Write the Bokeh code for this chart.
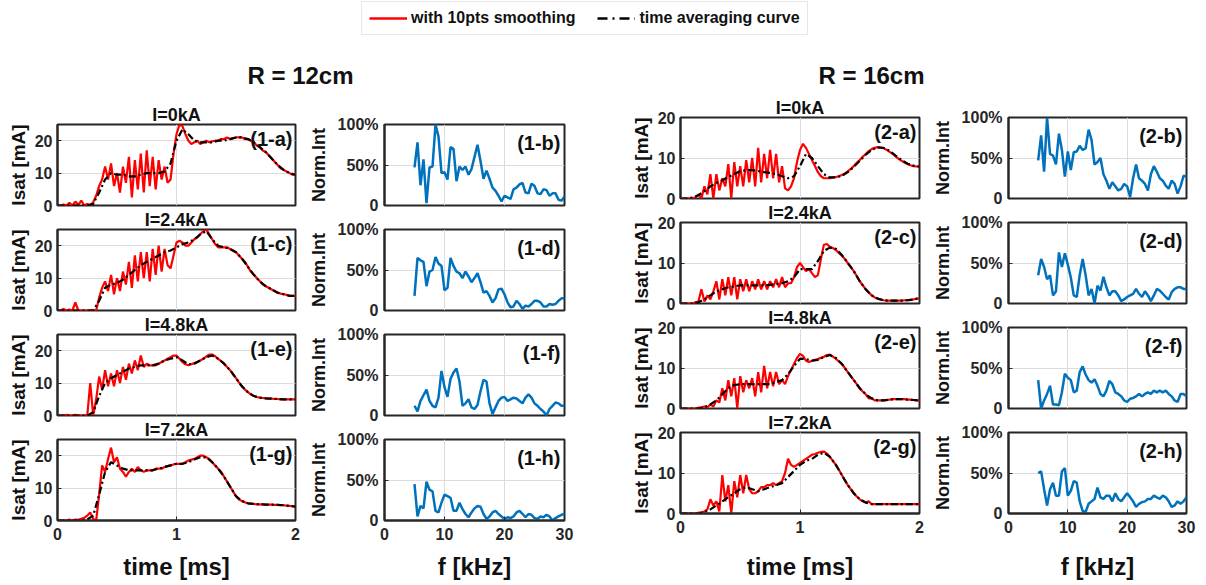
import numpy as np
from bokeh.plotting import figure
from bokeh.layouts import row, column
from bokeh.models import Label, Legend, LegendItem, Range1d, FixedTicker, Spacer
from bokeh.embed import file_html
from bokeh.resources import INLINE

FONT = "Liberation Sans"
DARK = "#262626"
GRIDC = "#dcdcdc"
RED = "#ff0000"
BLUE = "#0072bd"

# sampling grids
time_red = np.round(np.arange(81) * 0.025, 3)   # ms
time_avg = np.round(np.arange(41) * 0.05, 3)    # ms
freq_khz = np.arange(51) * 0.5 + 5.0            # kHz

# ---------------- R = 12 cm : Isat [mA] ----------------
r12_i0_smooth = [0, 0, 0.3, 0, 0.8, 0, 1.2, 0.2, 1.5, 0,
                 0.5, 0, 1, 3, 6, 8, 12, 8, 13, 6,
                 10, 4, 12, 7, 15, 2.5, 14, 5, 16, 4,
                 17, 6, 15, 5, 14, 8, 12, 7, 8, 16,
                 22, 25, 24.5, 22, 20, 19, 19.5, 20, 19, 19.5,
                 20, 19.5, 19.8, 20, 20, 20.5, 20.5, 21, 20.5, 20.8,
                 21, 21, 21, 20.5, 20.5, 20, 19.5, 18.5, 18, 17,
                 16.5, 15.5, 14.5, 13.5, 12.5, 11.5, 11, 10.5, 10, 9.5,
                 9.5]
r12_i0_avg = [0, 0, 0, 0, 0, 0, 0.5, 4, 8, 10,
              9.5, 9.5, 9, 9, 9.5, 10, 10, 10, 10.5, 13,
              20, 23.5, 22, 20, 19.5, 19.5, 19.5, 20, 20, 20.5,
              21, 21, 20.5, 19.5, 18, 16.5, 14.5, 12.5, 11, 10,
              9.5]

r12_i24_smooth = [0, 0, 0.5, 0, 0.3, 0, 2.5, 0, 0, 0,
                  0, 0, 0, 0, 4, 7, 9, 6, 11, 5,
                  10, 6, 12, 8, 15, 7, 17, 9, 18, 10,
                  18, 9, 19, 11, 20, 12, 19, 14, 13, 17,
                  21, 21.5, 21, 20, 20, 21, 22, 22.5, 23.5, 24.5,
                  25, 23.5, 22, 20.5, 19.5, 19.5, 19.5, 19.5, 19, 18.5,
                  18, 17, 16, 15, 13.5, 12, 11, 10, 9, 8,
                  7.5, 7, 6.5, 6, 5.5, 5.2, 5, 4.8, 4.6, 4.5,
                  4.5]
r12_i24_avg = [0, 0, 0, 0, 0, 0, 0, 3, 7, 8,
               8.5, 9.5, 11, 12.5, 14, 15, 16, 17, 18, 18.5,
               19.5, 20.5, 21, 22, 23.5, 24.5, 22, 20, 19.5, 19,
               18, 16, 13.5, 11, 9, 7.5, 6.5, 5.5, 5, 4.5,
               4.5]

r12_i48_smooth = [0, 0, 0, 0.2, 0, 0, 0.2, 0, 0, 0,
                  0, 10, 0, 5, 12, 8, 14, 9, 13, 9,
                  14, 10, 15, 11, 16, 13, 17, 14, 18.5, 15,
                  16, 15.5, 15.5, 15.5, 16, 16.5, 17, 17.5, 18, 18.5,
                  18.5, 17.5, 16.5, 15.8, 15.5, 15.8, 16.2, 16.5, 17, 17.5,
                  18.2, 18.8, 18.8, 18.3, 17.5, 16.8, 16, 15, 14, 12.8,
                  11.5, 10.2, 9, 8, 7.2, 6.5, 6, 5.7, 5.5, 5.4,
                  5.3, 5.2, 5.2, 5.1, 5.1, 5, 5, 5, 5, 5,
                  5]
r12_i48_avg = [0, 0, 0, 0, 0, 0, 1, 6, 10, 11.5,
               12.5, 13.5, 14.5, 15, 15.5, 15.5, 15.5, 16, 17, 17.5,
               18, 17, 15.8, 16, 17, 18, 18.5, 17.5, 16, 14,
               11.5, 9, 7.2, 6, 5.5, 5.3, 5.2, 5.1, 5, 5,
               5]

r12_i72_smooth = [0, 0, 0, 0, 0.3, 0, 0.3, 0.2, 0.5, 0.8,
                  1.5, 2.5, 0.5, 0, 8, 17, 15, 19, 22.5, 18,
                  19.5, 16, 15, 13.5, 15, 16, 15, 16.5, 15.5, 15,
                  15.5, 15.5, 15.5, 16, 16, 16, 16.5, 16.8, 17, 17.3,
                  17.5, 17.5, 17.5, 18, 18.5, 18.8, 19, 19.5, 20, 20,
                  19.5, 19, 18, 17, 16, 15, 13.5, 12, 10.5, 9,
                  7.5, 6.5, 6, 5.6, 5.3, 5.2, 5.1, 5, 5, 5,
                  4.9, 4.9, 4.9, 4.8, 4.8, 4.7, 4.7, 4.6, 4.5, 4.4,
                  4.3]
r12_i72_avg = [0, 0, 0, 0, 0, 0.3, 1.5, 8, 15, 18,
               17, 16, 15.5, 15.5, 15.5, 15.5, 15.5, 16, 16.5, 17,
               17.5, 17.5, 18, 18.8, 19.5, 19.5, 18, 16, 13.5, 10.5,
               7.5, 6, 5.3, 5.1, 5, 4.9, 4.9, 4.8, 4.7, 4.5,
               4.3]

# ---------------- R = 16 cm : Isat [mA] ----------------
r16_i0_smooth = [0, 0, 0, 0, 0, 0.3, 1, 0, 3, 1,
                 6, 0, 6, 2, 5, 3, 8.5, 0, 9, 3,
                 8, 3, 9.5, 4, 10, 3, 12.5, 4, 11, 5,
                 12, 5, 11, 4, 8, 2.5, 2, 3, 5, 9,
                 12, 13.5, 12.5, 11, 9.5, 8, 6.5, 5.5, 5, 5,
                 5, 5.2, 5.3, 5.5, 5.8, 6.2, 6.7, 7.3, 8, 8.8,
                 9.5, 10.3, 11, 11.7, 12.2, 12.5, 12.7, 12.6, 12.4, 12,
                 11.5, 11, 10.4, 9.8, 9.3, 8.9, 8.5, 8.2, 8, 7.9,
                 7.8]
r16_i0_avg = [0, 0, 0.2, 0.8, 1.8, 3, 3.8, 4.5, 5.3, 6,
              6.8, 7, 7, 6.8, 6.5, 6.3, 6, 5.5, 5, 5.5,
              8, 11, 10, 8, 6, 5.2, 5.2, 5.6, 6.5, 7.8,
              9.3, 10.8, 12, 12.6, 12.5, 11.8, 10.6, 9.5, 8.6, 8.1,
              7.9]

r16_i24_smooth = [0, 0, 0, 0, 0, 0.3, 0.5, 3.5, 0.5, 2,
                  1, 3, 5.5, 1, 6, 2, 6.5, 2, 6.5, 1,
                  6, 3, 6, 3, 5.5, 3.5, 6, 3.5, 5.5, 3.5,
                  5.5, 4, 6, 4, 6.5, 4, 5, 5, 6.5, 9,
                  10, 9, 8, 8.5, 7.5, 6.5, 7, 11, 14.5, 14.7,
                  14, 13.7, 13.2, 12.5, 11.8, 11, 10, 9, 8, 6.8,
                  5.5, 4.5, 3.5, 2.7, 2, 1.5, 1.2, 1, 0.8, 0.7,
                  0.7, 0.7, 0.7, 0.7, 0.7, 0.8, 0.8, 0.9, 1, 1.2,
                  1.3]
r16_i24_avg = [0, 0, 0, 0.3, 1, 2, 3, 3.5, 4, 4.2,
               4.5, 4.5, 4.5, 4.5, 4.5, 4.6, 4.8, 5, 5.5, 6.5,
               8.5, 8.5, 8.5, 10.5, 13, 13.8, 13.5, 12, 10, 8,
               5.5, 3.5, 2, 1.2, 0.8, 0.7, 0.7, 0.7, 0.8, 1,
               1.3]

r16_i48_smooth = [0, 0, 0, 0, 0, 0, 0.2, 0.3, 0.5, 0.3,
                  1, 0.5, 2, 1.5, 5, 2, 7, 3, 7.5, 0,
                  8, 4, 7, 5, 7.5, 3, 9, 4, 10.5, 5,
                  9, 5.5, 9, 6, 7, 6, 8, 9.5, 11, 12.5,
                  13.5, 13, 11.8, 11.5, 11.8, 12, 12.2, 12.5, 12.8, 13.2,
                  13.3, 12.8, 12.3, 11.6, 11, 10, 9, 8, 7, 6,
                  5, 4.2, 3.5, 2.5, 2.5, 2, 2, 2, 2, 2.1,
                  2.2, 2.3, 2.3, 2.3, 2.3, 2.3, 2.2, 2.2, 2.1, 2,
                  2]
r16_i48_avg = [0, 0, 0, 0, 0.3, 1, 2, 3.5, 5, 5.8,
               6, 6, 6, 6, 6, 6, 6.5, 7, 8.5, 10.5,
               12.3, 12.2, 11.8, 12, 12.7, 13.2, 12.5, 11, 9, 7,
               5, 3.5, 2.5, 2, 2, 2.2, 2.3, 2.3, 2.2, 2.1,
               2]

r16_i72_smooth = [0, 0, 0, 0, 0, 0, 0.2, 0.3, 0.5, 1,
                  3.5, 2, 3, 0.5, 9.5, 3, 7, 0, 8, 4,
                  9.5, 5, 9.5, 6, 5, 5, 5.5, 6.5, 6.5, 7,
                  7, 7.5, 7, 7.5, 8, 10, 13.5, 12, 11.5, 12,
                  12.5, 13, 13.5, 14, 14.5, 14.7, 15, 15.2, 15.3, 14.8,
                  14, 13, 12, 10.8, 9.5, 8.2, 7, 6, 5, 4.2,
                  3.5, 3, 2.7, 3, 2.3, 2.3, 2.3, 2.3, 2.3, 2.3,
                  2.3, 2.3, 2.3, 2.3, 2.3, 2.3, 2.3, 2.3, 2.3, 2.3,
                  2.3]
r16_i72_avg = [0, 0, 0, 0, 0.3, 1, 2, 3, 4, 5,
               6, 6.5, 6, 5.5, 6, 6.5, 7, 7.5, 9, 10.5,
               12, 13, 13.5, 14.5, 15, 14, 12, 9.5, 7, 5,
               3.5, 2.7, 2.3, 2.3, 2.3, 2.3, 2.3, 2.3, 2.3, 2.3,
               2.3]

# ---------------- spectra, Norm.Int [%] ----------------
spec_1b = [47, 78, 25, 57, 3, 47, 48, 100, 85, 40, 41, 32, 72, 70, 30, 48, 44, 48, 38, 45,
           60, 75, 55, 33, 43, 33, 22, 18, 12, 5, 12, 10, 8, 20, 22, 26, 28, 16, 15, 27,
           24, 15, 14, 20, 19, 12, 15, 15, 7, 6, 11]
spec_1d = [18, 65, 62, 60, 30, 48, 50, 66, 58, 55, 25, 28, 65, 55, 48, 46, 40, 48, 42, 35,
           40, 46, 35, 22, 24, 18, 10, 15, 26, 27, 20, 10, 4, 5, 12, 8, 2, 6, 5, 8,
           12, 12, 10, 5, 5, 8, 7, 8, 12, 15, 15]
spec_1f = [12, 5, 18, 25, 32, 18, 12, 10, 22, 55, 35, 23, 45, 53, 58, 42, 12, 15, 20, 10,
           8, 13, 30, 44, 42, 15, 2, 10, 18, 22, 23, 18, 20, 22, 21, 18, 15, 22, 26, 22,
           15, 12, 8, 5, 0, 8, 12, 16, 15, 12, 12]
spec_1h = [45, 5, 18, 15, 48, 38, 36, 12, 10, 22, 32, 30, 28, 12, 12, 22, 14, 8, 4, 10,
           15, 18, 17, 8, 2, 5, 10, 12, 8, 5, 2, 4, 3, 5, 10, 12, 8, 4, 8, 7,
           3, 2, 5, 4, 7, 5, 0, 3, 5, 7, 8]
spec_2b = [47, 78, 33, 100, 55, 53, 42, 80, 60, 27, 58, 35, 57, 58, 65, 60, 62, 85, 72, 42,
           45, 50, 30, 22, 12, 20, 15, 10, 12, 18, 15, 2, 25, 42, 25, 22, 18, 10, 30, 40,
           33, 25, 22, 16, 12, 22, 18, 6, 15, 28, 27]
spec_2d = [35, 55, 45, 30, 35, 10, 15, 63, 45, 62, 48, 32, 10, 8, 35, 55, 35, 10, 18, 0,
           22, 16, 33, 20, 10, 15, 15, 10, 3, 5, 8, 10, 12, 18, 12, 8, 15, 10, 3, 10,
           18, 16, 12, 8, 5, 14, 18, 20, 20, 18, 18]
spec_2f = [35, 0, 10, 18, 28, 5, 5, 4, 20, 43, 38, 35, 20, 22, 45, 52, 42, 35, 32, 36,
           28, 18, 15, 22, 34, 30, 20, 18, 15, 10, 8, 12, 13, 15, 18, 15, 18, 20, 18, 22,
           20, 22, 20, 22, 18, 15, 10, 8, 18, 18, 15]
spec_2h = [50, 52, 30, 10, 30, 38, 22, 22, 52, 56, 22, 28, 40, 38, 15, 3, 2, 12, 15, 18,
           32, 20, 18, 22, 22, 15, 25, 18, 15, 20, 25, 20, 15, 8, 12, 14, 15, 18, 18, 22,
           20, 18, 22, 20, 15, 8, 10, 15, 12, 15, 20]

currents = ["I=0kA", "I=2.4kA", "I=4.8kA", "I=7.2kA"]
time_ticks = [0, 1, 2]
freq_ticks = [0, 10, 20, 30]
tags_12 = [("(1-a)", "(1-b)"), ("(1-c)", "(1-d)"), ("(1-e)", "(1-f)"), ("(1-g)", "(1-h)")]
tags_16 = [("(2-a)", "(2-b)"), ("(2-c)", "(2-d)"), ("(2-e)", "(2-f)"), ("(2-g)", "(2-h)")]

FH = 81     # frame height
TOP = 23    # top border (holds the panel title)
GAPB = 10   # bottom border of upper panels (room for the "0" tick label)
OVER = -9   # rows overlap so that the frame pitch is 105 px
TICKF = "16px"


def make_fig(fw, left, right, bottom, xmax, ymax, title=None):
    p = figure(frame_width=fw, frame_height=FH, min_border_left=left, min_border_right=right,
               min_border_top=TOP, min_border_bottom=bottom,
               x_range=Range1d(0, xmax), y_range=Range1d(0, ymax),
               toolbar_location=None, output_backend="svg", title=title)
    p.background_fill_color = "white"
    p.border_fill_alpha = 0.0
    p.outline_line_color = DARK
    p.outline_line_width = 2
    p.outline_line_alpha = 1.0
    if title:
        p.title.text_font = FONT
        p.title.text_font_size = "18px"
        p.title.text_font_style = "bold"
        p.title.text_color = "#111111"
        p.title.align = "center"
        p.title.standoff = 0
    for ax in p.axis:
        ax.major_label_text_font = FONT
        ax.major_label_text_font_size = TICKF
        ax.major_label_text_font_style = "bold"
        ax.major_label_text_color = "#262626"
        ax.major_tick_in = 4
        ax.major_tick_out = 0
        ax.minor_tick_in = 0
        ax.minor_tick_out = 0
        ax.major_tick_line_color = DARK
        ax.axis_line_color = DARK
        ax.axis_line_width = 2
        ax.axis_label_text_font = FONT
        ax.axis_label_text_font_style = "bold"
        ax.axis_label_text_color = "#111111"
    for g in p.grid:
        g.grid_line_color = GRIDC
        g.grid_line_width = 1
    return p


def tag_label(x, y, xoff, text):
    return Label(x=x, y=y, x_offset=xoff, text=text, text_align="right",
                 text_baseline="middle", text_font=FONT, text_font_size="20px",
                 text_font_style="bold", text_color="#111111")


def time_fig(title, smooth, avg, ymax, tag, left, fw, show_x, bottom, xlabel_standoff):
    p = make_fig(fw, left, 5, bottom, 2, ymax, title)
    p.xaxis.ticker = FixedTicker(ticks=time_ticks)
    p.xgrid.ticker = FixedTicker(ticks=time_ticks)
    p.yaxis.ticker = FixedTicker(ticks=[0, 10, 20])
    p.ygrid.ticker = FixedTicker(ticks=[0, 10, 20])
    p.yaxis.axis_label = "Isat [mA]"
    p.yaxis.axis_label_text_font_size = "19px"
    p.yaxis.axis_label_standoff = 3
    p.yaxis.major_label_standoff = 5
    if show_x:
        p.xaxis.axis_label = "time [ms]"
        p.xaxis.axis_label_text_font_size = "24px"
        p.xaxis.axis_label_standoff = xlabel_standoff
        p.xaxis.major_label_standoff = 7
    else:
        p.xaxis.visible = False
    p.line(time_red, smooth, line_color=RED, line_width=2.2)
    p.line(time_avg, avg, line_color="black", line_width=2.2, line_dash="7 3 2 3")
    p.add_layout(tag_label(2, ymax * (1 - 14.0 / FH), -3, tag))
    return p


def freq_fig(spec, tag, left, right, fw, show_x, bottom, xlabel_standoff):
    p = make_fig(fw, left, right, bottom, 30, 100)
    p.xaxis.ticker = FixedTicker(ticks=freq_ticks)
    p.xgrid.ticker = FixedTicker(ticks=freq_ticks)
    p.yaxis.ticker = FixedTicker(ticks=[0, 50, 100])
    p.ygrid.ticker = FixedTicker(ticks=[0, 50, 100])
    p.yaxis.major_label_overrides = {0: "0", 50: "50%", 100: "100%"}
    p.yaxis.axis_label = "Norm.Int"
    p.yaxis.axis_label_text_font_size = "18px"
    p.yaxis.axis_label_standoff = 6
    p.yaxis.major_label_standoff = 6
    if show_x:
        p.xaxis.axis_label = "f [kHz]"
        p.xaxis.axis_label_text_font_size = "24px"
        p.xaxis.axis_label_standoff = xlabel_standoff
        p.xaxis.major_label_standoff = 7
    else:
        p.xaxis.visible = False
    p.line(freq_khz, spec, line_color=BLUE, line_width=2.5)
    p.add_layout(tag_label(30, 100 * (1 - 18.0 / FH), -4, tag))
    return p


def block(smooths, avgs, specs, tags, ymax, tleft, tfw, fright, ffw, last_bottom, xstand):
    rows = []
    for k in range(4):
        last = k == 3
        b = last_bottom if last else GAPB
        tf = time_fig(currents[k], smooths[k], avgs[k], ymax, tags[k][0], tleft, tfw, last, b, xstand)
        ff = freq_fig(specs[k], tags[k][1], 84, fright, ffw, last, b, xstand)
        margin = (0, 0, 0, 0) if k == 0 else (OVER, 0, 0, 0)
        rows.append(row(tf, ff, margin=margin))
    return rows


# ---- left block (R = 12 cm)
left_rows = block([r12_i0_smooth, r12_i24_smooth, r12_i48_smooth, r12_i72_smooth],
                  [r12_i0_avg, r12_i24_avg, r12_i48_avg, r12_i72_avg],
                  [spec_1b, spec_1d, spec_1f, spec_1h], tags_12, 25, 57, 238, 36, 180, 65, 10)
left_col = column(Spacer(width=600, height=7), *left_rows)

# ---- right block (R = 16 cm)
right_rows = block([r16_i0_smooth, r16_i24_smooth, r16_i48_smooth, r16_i72_smooth],
                   [r16_i0_avg, r16_i24_avg, r16_i48_avg, r16_i72_avg],
                   [spec_2b, spec_2d, spec_2f, spec_2h], tags_16, 20, 80, 239, 20, 178, 72, 17)
right_col = column(*right_rows)

# ---- top band: legend + block titles
TOPH = 94
top = figure(width=1206, height=TOPH, x_range=Range1d(0, 1206), y_range=Range1d(0, TOPH),
             toolbar_location=None, output_backend="svg", x_axis_location=None,
             y_axis_location=None, min_border=0)
top.grid.visible = False
top.outline_line_color = None
top.border_fill_color = "white"
# legend proxies (NaN values: nothing is drawn in the band itself)
proxy_x = np.array([0.0, 0.0])
proxy_y = np.array([np.nan, np.nan])
r1 = top.line(proxy_x, proxy_y, line_color=RED, line_width=2.5)
r2 = top.line(proxy_x, proxy_y, line_color="black", line_width=2.5, line_dash="10 5 2 5")
legend = Legend(items=[LegendItem(label="with 10pts smoothing", renderers=[r1]),
                       LegendItem(label="time averaging curve", renderers=[r2])],
                orientation="horizontal", location=(361, TOPH - 35),
                label_text_font=FONT, label_text_font_size="16px", label_text_font_style="bold",
                label_text_color="#111111", glyph_width=38, glyph_height=18, label_height=18,
                label_standoff=4, spacing=22, padding=7, margin=0,
                border_line_color="#d0d0d0", border_line_width=1, background_fill_alpha=1)
top.add_layout(legend)
for cx, txt in [(300, "R = 12cm"), (871, "R = 16cm")]:
    top.add_layout(Label(x=cx, y=TOPH - 75, text=txt, text_align="center", text_baseline="middle",
                         text_font=FONT, text_font_size="24px", text_font_style="bold",
                         text_color="#111111"))

layout = column(top, row(left_col, right_col))

open("out.html", "w").write(file_html(layout, INLINE))
